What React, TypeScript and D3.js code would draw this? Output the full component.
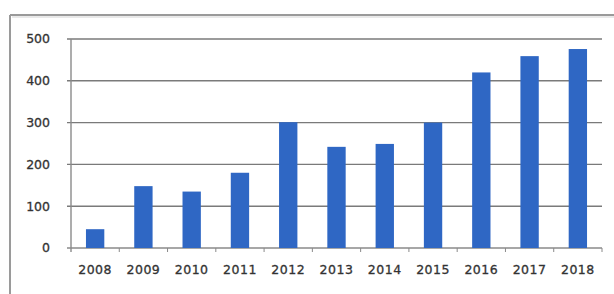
import React from 'react';
import * as d3 from 'd3';

const years = ['2008', '2009', '2010', '2011', '2012', '2013', '2014', '2015', '2016', '2017', '2018'];
const counts = [45, 148, 135, 180, 301, 242, 249, 300, 420, 459, 476];
const yTicks = [0, 100, 200, 300, 400, 500];

export default function App() {
  const width = 614;
  const height = 294;
  const margin = { top: 39, right: 12, bottom: 46, left: 71 };
  const innerW = width - margin.left - margin.right;
  const innerH = height - margin.top - margin.bottom;

  const x = d3.scaleBand().domain(years).range([0, innerW]).paddingInner(0).paddingOuter(0);
  const y = d3.scaleLinear().domain([0, 500]).range([innerH, 0]);
  const barW = x.bandwidth() * 0.38;

  return (
    <div style={{ position: 'absolute', left: 0, top: 0 }}>
      <svg width={width} height={height} style={{ display: 'block', background: '#fff' }}>
        {/* outer chart frame */}
        <line x1={10} y1={15} x2={width} y2={15} stroke='#9a9a9a' strokeWidth={2} />
        <line x1={10} y1={15} x2={10} y2={height} stroke='#9a9a9a' strokeWidth={2} />
        <line x1={12} y1={17} x2={width} y2={17} stroke='#e2e2e2' strokeWidth={1.5} />

        <g transform={`translate(${margin.left},${margin.top})`}>
          {yTicks.map((t) => (
            <g key={t}>
              <line x1={-4} x2={innerW} y1={y(t)} y2={y(t)} stroke={t === 0 ? '#8a8a8a' : '#7a7a7a'} strokeWidth={1.4} />
              <text
                x={-21}
                y={y(t)}
                dy='0.35em'
                textAnchor='end'
                fontFamily='DejaVu Sans'
                fontSize={12.5}
                fill='#333'
                stroke='#333'
                strokeWidth={0.3}
              >
                {t}
              </text>
            </g>
          ))}
          <line x1={0} x2={0} y1={0} y2={innerH + 4} stroke='#8a8a8a' strokeWidth={1.4} />
          {years.map((yr) => (
            <line key={'t' + yr} x1={(x(yr) as number) + x.bandwidth()} x2={(x(yr) as number) + x.bandwidth()} y1={innerH} y2={innerH + 4} stroke='#8a8a8a' strokeWidth={1} />
          ))}
          {years.map((yr, i) => (
            <rect
              key={yr}
              x={(x(yr) as number) + x.bandwidth() / 2 - barW / 2}
              y={y(counts[i])}
              width={barW}
              height={innerH - y(counts[i])}
              fill='#2f67c4'
            />
          ))}
          {years.map((yr) => (
            <text
              key={'l' + yr}
              x={(x(yr) as number) + x.bandwidth() / 2}
              y={innerH + 26}
              textAnchor='middle'
              fontFamily='DejaVu Sans'
              fontSize={12.5}
              fill='#333'
              stroke='#333'
              strokeWidth={0.3}
              letterSpacing={0.5}
            >
              {yr}
            </text>
          ))}
        </g>
      </svg>
    </div>
  );
}
